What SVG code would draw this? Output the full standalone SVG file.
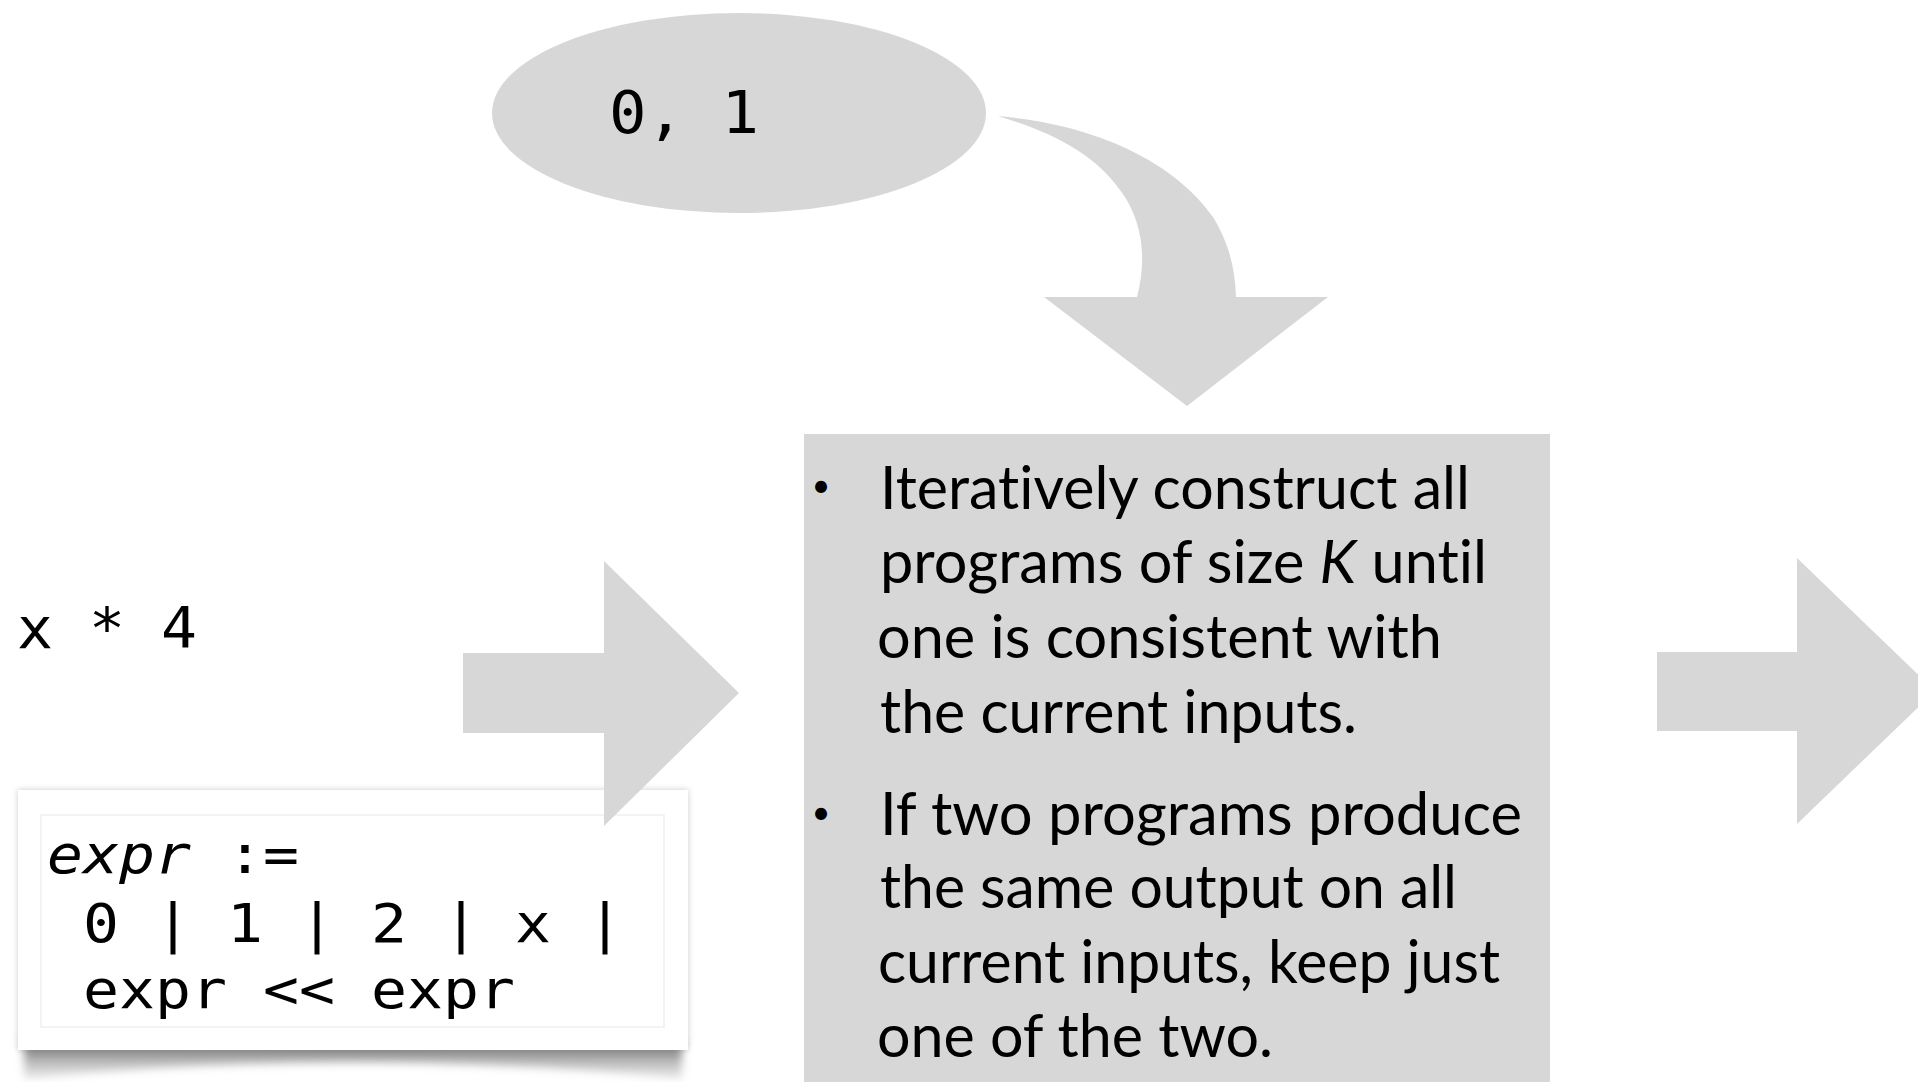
<svg xmlns="http://www.w3.org/2000/svg" width="1918" height="1082" viewBox="0 0 1918 1082">
<style>
.shape{fill:#d7d7d7}
.mono{font-family:"DejaVu Sans Mono","Liberation Mono",monospace;fill:#000}
.it{font-style:italic}
.body{font-family:Lato,"Open Sans","Liberation Sans",sans-serif;font-size:60px;fill:#000;font-variant-ligatures:none;font-feature-settings:"liga" 0,"clig" 0}
.bullet{font-family:Lato,"Open Sans","Liberation Sans",sans-serif;font-size:32px;fill:#000}
</style>
<defs>
<filter id="soft" x="-10%" y="-10%" width="120%" height="130%">
<feGaussianBlur stdDeviation="3"/>
</filter>
<filter id="curl" x="-10%" y="-50%" width="120%" height="200%">
<feGaussianBlur stdDeviation="4"/>
</filter>
<linearGradient id="shadeGrad" x1="0" y1="0" x2="0" y2="1">
<stop offset="0" stop-color="#555"/>
<stop offset="1" stop-color="#bbb" stop-opacity="0.3"/>
</linearGradient>
</defs>
<rect width="1918" height="1082" fill="#fff"/>

<g id="n-input">
<ellipse class="shape" cx="739" cy="113" rx="247" ry="100"/>
<text class="mono" x="609" y="133" font-size="58" textLength="150" lengthAdjust="spacingAndGlyphs">0, 1</text>
</g>

<g id="n-example">
<text class="mono" x="17" y="648" font-size="57" textLength="180" lengthAdjust="spacingAndGlyphs">x * 4</text>
</g>

<g id="n-grammar">
<path d="M24 1040 L682 1040 L682 1079 Q353 1046 24 1079 Z" fill="url(#shadeGrad)" filter="url(#curl)"/>
<rect x="18" y="790" width="670" height="260" fill="#9a9a9a" filter="url(#soft)" opacity="0.5"/>
<rect x="18" y="790" width="670" height="260" fill="#fff"/>
<rect x="41" y="815" width="623" height="212" fill="none" stroke="#efefef" stroke-width="1.5"/>
<text class="mono" x="47" y="873" font-size="53" textLength="252" lengthAdjust="spacingAndGlyphs"><tspan class="it">expr</tspan> :=</text>
<text class="mono" x="47" y="942" font-size="53" textLength="576" lengthAdjust="spacingAndGlyphs" xml:space="preserve"> 0 | 1 | 2 | x |</text>
<text class="mono" x="47" y="1008" font-size="53" textLength="468" lengthAdjust="spacingAndGlyphs" xml:space="preserve"> expr &lt;&lt; expr</text>
</g>

<g id="n-synth">
<rect class="shape" x="804" y="434" width="746" height="660"/>
<text class="bullet" x="821" y="497" text-anchor="middle">•</text>
<text class="body" x="880" y="509" textLength="590" lengthAdjust="spacingAndGlyphs">Iteratively construct all</text>
<text class="body" x="880" y="583" textLength="607" lengthAdjust="spacingAndGlyphs">programs of size <tspan font-style="italic">K</tspan> until</text>
<text class="body" x="877" y="658" textLength="565" lengthAdjust="spacingAndGlyphs">one is consistent with</text>
<text class="body" x="880" y="733" textLength="477" lengthAdjust="spacingAndGlyphs">the current inputs.</text>
<text class="bullet" x="821" y="824" text-anchor="middle">•</text>
<text class="body" x="880" y="835" textLength="642" lengthAdjust="spacingAndGlyphs">If two programs produce</text>
<text class="body" x="880" y="908" textLength="577" lengthAdjust="spacingAndGlyphs">the same output on all</text>
<text class="body" x="878" y="983" textLength="622" lengthAdjust="spacingAndGlyphs">current inputs, keep just</text>
<text class="body" x="877" y="1057" textLength="396" lengthAdjust="spacingAndGlyphs">one of the two.</text>
</g>

<g id="connectors">
<path id="c-input-synth" class="shape" d="M998 116 C1110 126 1180 170 1213 217 C1230 245 1235 270 1236 297 L1328 297 L1187 406 L1044 297 L1137 297 C1147 260 1143 220 1120 190 C1095 155 1055 133 998 116 Z"/>
<path id="c-example-synth" class="shape" d="M463 653 L604 653 L604 561 L739 693 L604 826 L604 733 L463 733 Z"/>
<path id="c-synth-out" class="shape" d="M1657 652 L1797 652 L1797 558 L1935 691 L1797 824 L1797 731 L1657 731 Z"/>
</g>
</svg>
